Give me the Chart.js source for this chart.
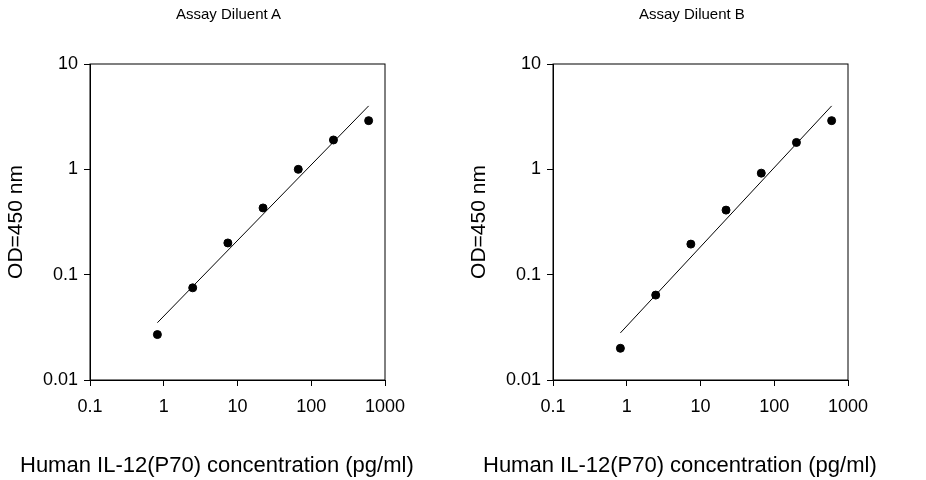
<!DOCTYPE html>
<html><head><meta charset="utf-8">
<script src="https://cdn.jsdelivr.net/npm/chart.js@4"></script>
<style>
body{margin:0;background:#fff;font-family:"Liberation Sans",Arial,sans-serif}
.w{position:absolute;top:0;width:463px;height:480px}
.t{position:absolute;top:5px;width:100%;font-size:15px}
.xl{position:absolute;top:452px;font-size:22px;white-space:nowrap}
</style></head><body>
<div class="w" style="left:0"><canvas id="cA" width="463" height="480"></canvas>
<div class="t" style="left:176px">Assay Diluent A</div>
<div class="xl" style="left:20px">Human IL-12(P70) concentration (pg/ml)</div></div>
<div class="w" style="left:463px"><canvas id="cB" width="463" height="480"></canvas>
<div class="t" style="left:176px">Assay Diluent B</div>
<div class="xl" style="left:20px">Human IL-12(P70) concentration (pg/ml)</div></div>
<script>
const conc = [0.82, 2.47, 7.4, 22.2, 66.7, 200, 600];
const odA = [0.027, 0.075, 0.2, 0.43, 1.0, 1.9, 2.9];
const odB = [0.02, 0.064, 0.195, 0.41, 0.92, 1.8, 2.9];
const fitX = [0.82, 600];
const fitA = [0.035, 4.0];
const fitB = [0.028, 4.0];
const xTicks = [0.1, 1, 10, 100, 1000];
const yTicks = [0.01, 0.1, 1, 10];

const frame = {id:"frame", afterDraw(c){const a=c.chartArea,x=c.ctx;x.save();x.strokeStyle="#000";x.lineWidth=1;x.strokeRect(a.left,a.top,a.right-a.left,a.bottom-a.top);x.restore();}};
function make(id, od, fit){
  new Chart(document.getElementById(id), {
    data:{datasets:[
      {type:"scatter", data:conc.map((v,i)=>({x:v,y:od[i]})), backgroundColor:"#000", borderColor:"#000", pointRadius:4},
      {type:"line", data:fitX.map((v,i)=>({x:v,y:fit[i]})), borderColor:"#000", borderWidth:1, pointRadius:0}
    ]},
    options:{responsive:false, animation:false,
      layout:{padding:{top:64,bottom:60,right:78,left:0}},
      plugins:{legend:{display:false},tooltip:{enabled:false}},
      scales:{
        x:{type:"logarithmic",min:0.1,max:1000,
          afterBuildTicks:s=>{s.ticks=xTicks.map(v=>({value:v}))},
          afterFit:s=>{s.height=40},
          grid:{drawOnChartArea:false,tickLength:6,color:"#000"},border:{color:"#000"},
          ticks:{color:"#000",padding:10,font:{size:18,family:"Liberation Sans"},callback:v=>String(v)}},
        y:{type:"logarithmic",min:0.01,max:10,
          afterBuildTicks:s=>{s.ticks=yTicks.map(v=>({value:v}))},
          afterFit:s=>{s.width=90},
          grid:{drawOnChartArea:false,tickLength:6,color:"#000"},border:{color:"#000"},
          title:{display:true,text:"OD=450 nm",color:"#000",font:{size:21,family:"Liberation Sans"}},
          ticks:{color:"#000",padding:6,font:{size:18,family:"Liberation Sans"},callback:v=>String(v)}}
      }},
    plugins:[frame]
  });
}
make("cA", odA, fitA);
make("cB", odB, fitB);
</script></body></html>
